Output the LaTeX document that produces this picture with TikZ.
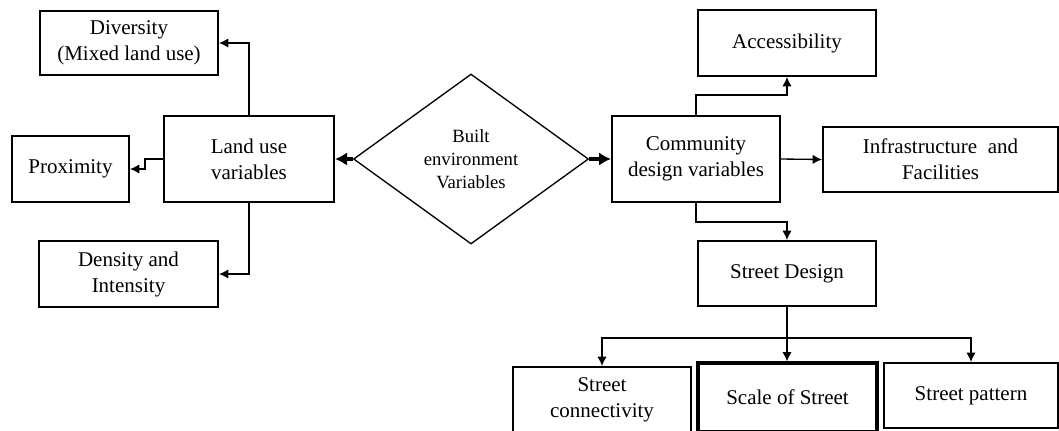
\documentclass[tikz,border=0pt]{standalone}
\usepackage{fontspec}
\setmainfont{Liberation Serif}
\usetikzlibrary{shapes.geometric,arrows.meta}
\begin{document}
\begin{tikzpicture}[x=0.75pt,y=-0.75pt,
  box/.style={draw,line width=1.5pt,rectangle,inner sep=0pt,align=center,
    font=\fontsize{15.75}{19.5}\selectfont},
  thickbox/.style={box,line width=2.4pt},
  arr/.style={line width=1pt,-{Latex[length=7pt,width=7pt]}},
  bigarr/.style={line width=2.4pt,-{Latex[length=9pt,width=10pt]}},
  dia/.style={draw,line width=1pt,diamond,inner sep=0pt,align=center,
    font=\fontsize{14}{17}\selectfont,minimum width=176.25pt,minimum height=127.5pt}]
\useasboundingbox (0,0) rectangle (1059,430);
\clip (0,0) rectangle (1059,430);
% nodes
\node[box,minimum width=133.5pt,minimum height=48pt] (div) at (129,43) {Diversity\\(Mixed land use)};
\node[box,minimum width=127.5pt,minimum height=64.5pt] (land) at (249,159) {Land use\\variables};
\node[box,minimum width=87.75pt,minimum height=49.5pt] (prox) at (70.5,169) {Proximity};
\node[box,minimum width=134.25pt,minimum height=49.5pt] (dens) at (128.5,274) {Density and\\Intensity};
\node[dia] (be) at (471,159) {Built\\environment\\Variables};
\node[box,minimum width=126pt,minimum height=64.5pt] (comm) at (696,159) {Community\\design variables};
\node[box,minimum width=133.5pt,minimum height=49.5pt] (acc) at (787,43) {Accessibility};
\node[box,minimum width=176.25pt,minimum height=48.75pt] (infra) at (940.5,159.5) {Infrastructure \ and\\Facilities};
\node[box,minimum width=133.5pt,minimum height=48.75pt] (sd) at (787,273.5) {Street Design};
\node[box,minimum width=133.5pt,minimum height=49.5pt] (sc) at (602,400) {Street\\connectivity};
\node[thickbox,minimum width=134.25pt,minimum height=51.75pt] (ss) at (787.5,397.5) {Scale of Street};
\node[box,minimum width=130.5pt,minimum height=48.75pt] (sp) at (971,395.5) {Street pattern};
% connectors
\draw[arr] (land.north) |- (div.east);
\draw[arr] (land.west) -- ++(-18,0) |- (prox.east);
\draw[arr] (land.south) |- (dens.east);
\draw[bigarr] (be.west) -- (land.east);
\draw[bigarr] (be.east) -- (comm.west);
\draw[arr] (comm.north) -- ++(0,-20) -| (acc.south);
\draw[arr] (comm.east) -- (infra.west);
\draw[arr] (comm.south) -- ++(0,19) -| (sd.north);
\draw[line width=1.6pt] (sd.south) -- ++(0,31) coordinate (br);
\draw[arr] (br) -| (sc.north);
\draw[arr] (br) -- (br |- ss.north);
\draw[arr] (br) -| (sp.north);
\end{tikzpicture}
\end{document}
